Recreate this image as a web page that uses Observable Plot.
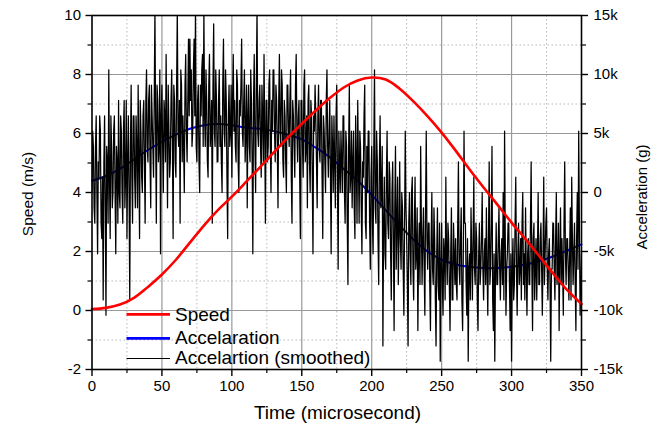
<!DOCTYPE html>
<html><head><meta charset="utf-8">
<script src="https://cdn.jsdelivr.net/npm/d3@7"></script>
<script src="https://cdn.jsdelivr.net/npm/@observablehq/plot@0.6"></script>
<style>
body{margin:0;background:#fff;}
#chart{width:655px;height:424px;}
</style>
</head><body><div id="chart"></div>
<script>
// ---- tick definitions ----
const timeTicks = [0, 50, 100, 150, 200, 250, 300, 350];
const timeMinor = [25, 75, 125, 175, 225, 275, 325];
const speedTicks = [-2, 0, 2, 4, 6, 8, 10];
const speedMinor = [-1, 1, 3, 5, 7, 9];
const accTicks = [-15, -10, -5, 0, 5, 10, 15];               // k g
const accTickLabels = ["-15k", "-10k", "-5k", "0", "5k", "10k", "15k"];
const accMinor = [-12.5, -7.5, -2.5, 2.5, 7.5, 12.5];

// ---- legend labels ----
const seriesNames = ["Speed", "Accelaration", "Accelartion (smoothed)"];
const seriesColors = ["#ff0000", "#0000ff", "#000000"];

// ---- smooth series (every 10 microseconds) ----
const smoothTime = [0,10,20,30,40,50,60,70,80,90,100,110,120,130,140,150,160,170,180,190,200,210,220,230,240,250,260,270,280,290,300,310,320,330,340,350];
const speed = [0.05,0.09,0.2,0.43,0.8,1.22,1.72,2.3,2.88,3.4,3.86,4.35,4.85,5.36,5.86,6.33,6.78,7.2,7.56,7.8,7.9,7.83,7.52,7.08,6.58,6.03,5.42,4.78,4.17,3.58,2.98,2.42,1.83,1.24,0.68,0.22];
const accelSmooth = [1.0,1.4,2.0,2.8,3.6,4.3,4.9,5.4,5.7,5.8,5.7,5.5,5.4,5.2,4.9,4.5,3.8,3.0,2.0,1.0,-0.2,-1.5,-2.8,-4.0,-5.0,-5.7,-6.1,-6.3,-6.4,-6.4,-6.3,-6.1,-5.8,-5.4,-4.9,-4.4]; // k g

// ---- raw acceleration (k g): samples at whole microseconds 0..350 ----
const accelRawWhole = [
0,3.9,-2.6,6.5,-5.2,1.3,5.2,-3.9,-9.1,6.5,
-10.4,2.6,10.4,-3.9,3.9,0,6.5,-5.2,2.6,7.8,
-1.3,5.2,-2.6,7.8,1.3,-3.9,6.5,-9.1,9.1,-2.6,
6.5,-1.3,3.9,9.1,-3.9,5.2,0,7.8,-2.6,10.4,
2.6,9.1,-1.3,6.5,1.3,15.6,-2.6,7.8,3.9,-5.2,
9.1,0,6.5,11.7,-1.3,5.2,2.6,10.4,-3.9,7.8,
1.3,15.6,3.9,-2.6,9.1,6.5,0,11.7,2.6,13,
13,10.4,5.2,13,15.6,2.6,9.1,0,6.5,11.7,
15.6,3.9,7.8,1.3,11.7,5.2,-2.6,14.3,3.9,7.8,
2.6,10.4,6.5,0,13,3.9,7.8,-3.9,9.1,5.2,
1.3,11.7,7.8,2.6,9.1,0,6.5,13,3.9,10.4,
5.2,-1.3,9.1,2.6,7.8,-5.2,11.7,0,15.6,3.9,
9.1,1.3,6.5,11.7,-2.6,7.8,3.9,10.4,0,5.2,
10.4,2.6,7.8,-1.3,11.7,3.9,9.1,1.3,6.5,0,
9.1,3.9,10.4,-2.6,6.5,1.3,11.7,2.6,7.8,-3.9,
7.8,1.3,10.4,3.9,-1.3,9.1,0,6.5,-5.2,5.2,
6.5,-1.3,9.1,2.6,7.8,-3.9,5.2,0,10.4,1.3,
7.8,-5.2,3.9,6.5,-1.3,9.1,-6.5,2.6,5.2,0,
6.5,-2.6,3.9,-7.8,9.1,1.3,-1.3,5.2,-3.9,2.6,
7.8,-2.6,3.9,-5.2,1.3,9.1,-3.9,0,5.2,-6.5,
3.9,-5.2,10.4,-2.6,2.6,-7.8,6.5,0,-13,1.3,
-6.5,5.2,-3.9,1.3,-9.1,2.6,-11.7,3.9,-2.6,-7.8,
2.6,-6.5,-1.3,-10.4,5.2,-3.9,-13,0,-7.8,1.3,
-9.1,1.3,-5.2,-11.7,-2.6,3.9,-7.8,-1.3,-10.4,5.2,
-6.5,-2.6,-11.7,0,-7.8,-3.9,-13,-1.3,-9.1,-14.3,
-2.6,-10.4,-5.2,1.3,-7.8,-3.9,-11.7,-1.3,-9.1,-5.2,
-3.9,-9.1,2.6,-7.8,-1.3,-11.7,5.2,-2.6,-10.4,-14.3,
-5.2,-1.3,-9.1,1.3,-7.8,-3.9,-11.7,-2.6,-6.5,0,
-9.1,-3.9,-1.3,-10.4,2.6,-6.5,3.9,-11.7,-14.3,-2.6,
-7.8,-1.3,-9.1,-3.9,0,5.2,-10.4,-5.2,-2.6,-11.7,
-14.3,-3.9,-7.8,1.3,-10.4,-2.6,-6.5,-9.1,0,-5.2,
-1.3,-10.4,-3.9,-7.8,2.6,-11.7,-2.6,-6.5,-9.1,0,
-7.8,-2.6,-10.4,1.3,-5.2,-1.3,-9.1,-3.9,-14.3,-6.5,
-2.6,-9.1,0,-6.5,-11.7,-1.3,-3.9,-10.4,2.6,-7.8,
-3.9,-9.1,-1.3,1.3,-7.8,-2.6,-11.7,0,5.2,-10.4,-5.2
];
// ---- raw acceleration (k g): samples at half microseconds 0.5..349.5 ----
const accelRawHalf = [
5.2,-1.3,3.9,0,2.6,6.5,-2.6,1.3,2.6,-1.3,
3.9,-2.6,1.3,6.5,-1.3,5.2,0,3.9,-2.6,0,
6.5,0,5.2,-1.3,7.8,2.6,0,3.9,1.3,6.5,
1.3,6.5,-1.3,2.6,7.8,1.3,6.5,2.6,7.8,3.9,
7.8,2.6,9.1,3.9,7.8,5.2,9.1,2.6,10.4,6.5,
3.9,7.8,2.6,5.2,9.1,1.3,7.8,3.9,9.1,2.6,
9.1,5.2,7.8,10.4,2.6,3.9,9.1,5.2,7.8,6.5,
7.8,3.9,10.4,6.5,3.9,7.8,2.6,9.1,10.4,3.9,
6.5,10.4,2.6,9.1,3.9,7.8,9.1,5.2,10.4,2.6,
7.8,3.9,2.6,9.1,5.2,10.4,1.3,6.5,3.9,9.1,
7.8,5.2,3.9,10.4,2.6,7.8,9.1,5.2,7.8,2.6,
9.1,6.5,3.9,10.4,2.6,7.8,3.9,9.1,5.2,7.8,
3.9,9.1,2.6,5.2,7.8,2.6,9.1,3.9,7.8,10.4,
5.2,9.1,3.9,7.8,5.2,10.4,2.6,7.8,2.6,9.1,
5.2,7.8,1.3,7.8,3.9,9.1,5.2,6.5,1.3,7.8,
3.9,9.1,2.6,6.5,7.8,2.6,7.8,1.3,6.5,9.1,
2.6,6.5,3.9,7.8,1.3,6.5,2.6,7.8,3.9,5.2,
1.3,6.5,0,2.6,6.5,1.3,5.2,0,2.6,6.5,
0,5.2,-2.6,3.9,0,5.2,2.6,-1.3,6.5,-2.6,
2.6,5.2,-1.3,2.6,6.5,-2.6,3.9,5.2,-2.6,1.3,
-2.6,3.9,-1.3,5.2,-3.9,2.6,-1.3,3.9,-2.6,-5.2,
1.3,-2.6,2.6,-5.2,0,-3.9,-1.3,-6.5,1.3,-3.9,
-3.9,0,-6.5,-2.6,-1.3,-7.8,-2.6,-5.2,0,-6.5,
-2.6,-6.5,-1.3,-5.2,-7.8,-2.6,-3.9,-6.5,-1.3,-3.9,
-2.6,-7.8,-3.9,-6.5,-1.3,-9.1,-5.2,-7.8,-2.6,-6.5,
-7.8,-3.9,-9.1,-5.2,-2.6,-7.8,-5.2,-9.1,-2.6,-7.8,
-7.8,-2.6,-6.5,-3.9,-9.1,-5.2,-2.6,-7.8,-3.9,-6.5,
-9.1,-5.2,-3.9,-6.5,-2.6,-9.1,-5.2,-7.8,-3.9,-6.5,
-5.2,-7.8,-6.5,-3.9,-7.8,-2.6,-9.1,-5.2,-6.5,-7.8,
-3.9,-6.5,-5.2,-7.8,-9.1,-3.9,-6.5,-2.6,-7.8,-5.2,
-6.5,-9.1,-2.6,-6.5,-5.2,-7.8,-3.9,-2.6,-7.8,-9.1,
-6.5,-5.2,-7.8,-2.6,-6.5,-3.9,-9.1,-3.9,-5.2,-7.8,
-3.9,-6.5,-5.2,-7.8,-2.6,-6.5,-5.2,-7.8,-6.5,-2.6,
-6.5,-3.9,-7.8,-2.6,-5.2,-7.8,-6.5,-2.6,-5.2,-3.9,
-6.5,-5.2,-9.1,-3.9,-5.2,-7.8,-3.9,-6.5,-2.6,-7.8
];

// dual-axis mapping: acceleration (k g) onto the speed scale (-15k..15k <-> -2..10)
const accToSpeed = a => 4 + a / 2.5;

const speedRows = smoothTime.map((t, i) => ({t, v: speed[i]}));
const smoothRows = smoothTime.map((t, i) => ({t, v: accToSpeed(accelSmooth[i])}));
const rawRows = [];
accelRawWhole.forEach((a, i) => {
  rawRows.push({t: i, v: accToSpeed(a)});
  if (i < accelRawHalf.length) rawRows.push({t: i + 0.5, v: accToSpeed(accelRawHalf[i])});
});

const accLabelAt = new Map(accTicks.map((a, i) => [accToSpeed(a), accTickLabels[i]]));

const W = 655, H = 424;
const mL = 91.5, mR = 74, mT = 15, mB = 55;
const font = "'Liberation Sans', Arial, Helvetica, sans-serif";

const svg = Plot.plot({
  width: W, height: H,
  marginLeft: mL, marginRight: mR, marginTop: mT, marginBottom: mB,
  x: {domain: [0, 350]},
  y: {domain: [-2, 10]},
  style: {fontFamily: font, fontSize: "15px", color: "#000", background: "#fff", overflow: "visible"},
  marks: [
    Plot.ruleX(timeMinor, {stroke: "#b8b8b8", strokeDasharray: "1.5,2.5", strokeWidth: 1}),
    Plot.ruleY(speedMinor, {stroke: "#b8b8b8", strokeDasharray: "1.5,2.5", strokeWidth: 1}),
    Plot.ruleX(timeTicks.slice(1, -1), {stroke: "#999", strokeWidth: 1.2}),
    Plot.ruleY(speedTicks.slice(1, -1), {stroke: "#999", strokeWidth: 1.2}),
    Plot.line(smoothRows, {x: "t", y: "v", stroke: seriesColors[1], strokeWidth: 2, curve: "catmull-rom"}),
    Plot.line(rawRows, {x: "t", y: "v", stroke: seriesColors[2], strokeWidth: 1.25, clip: true}),
    Plot.line(speedRows, {x: "t", y: "v", stroke: seriesColors[0], strokeWidth: 2.6, curve: "catmull-rom"}),
    Plot.frame({stroke: "#000", strokeWidth: 1.6}),
    Plot.axisX({ticks: timeTicks, tickSize: 7, tickPadding: 4, label: null, tickFormat: d => String(d), strokeWidth: 1.4}),
    Plot.axisX({ticks: timeMinor, tickSize: 4, label: null, tickFormat: () => "", strokeWidth: 1.2}),
    Plot.axisY({ticks: speedTicks, tickSize: 6, tickPadding: 5, label: null, tickFormat: d => String(d), strokeWidth: 1.4}),
    Plot.axisY({ticks: speedMinor, tickSize: 4, label: null, tickFormat: () => "", strokeWidth: 1.2}),
    Plot.axisY({anchor: "right", ticks: accTicks.map(accToSpeed), tickSize: 6, tickPadding: 6, label: null,
      tickFormat: d => accLabelAt.get(d) ?? "", strokeWidth: 1.4}),
    Plot.axisY({anchor: "right", ticks: accMinor.map(accToSpeed), tickSize: 4, label: null, tickFormat: () => "", strokeWidth: 1.2})
  ]
});

const root = d3.select(svg);
// axis titles
root.append("text").attr("transform", "translate(33,194) rotate(-90)")
  .attr("text-anchor", "middle").attr("font-family", font).attr("font-size", 15.5).attr("fill", "#000")
  .text("Speed (m/s)");
root.append("text").attr("transform", "translate(647,197) rotate(-90)")
  .attr("text-anchor", "middle").attr("font-family", font).attr("font-size", 15).attr("fill", "#000")
  .text("Acceleration (g)");
root.append("text").attr("x", 337.5).attr("y", 419)
  .attr("text-anchor", "middle").attr("font-family", font).attr("font-size", 19).attr("fill", "#000")
  .text("Time (microsecond)");

// legend
const lg = root.append("g");
const legendRows = [
  {y: 314.3, base: 320.8, w: 2.8},
  {y: 338.3, base: 343.6, w: 2.8},
  {y: 358.5, base: 364.2, w: 1}
];
legendRows.forEach((r, i) => {
  lg.append("line").attr("x1", 126.5).attr("x2", 170).attr("y1", r.y).attr("y2", r.y)
    .attr("stroke", seriesColors[i]).attr("stroke-width", r.w);
  lg.append("text").attr("x", 175).attr("y", r.base).attr("text-anchor", "start").attr("font-family", font)
    .attr("font-size", 19).attr("fill", "#000").text(seriesNames[i]);
});

document.getElementById("chart").appendChild(svg);
</script>
</body></html>
